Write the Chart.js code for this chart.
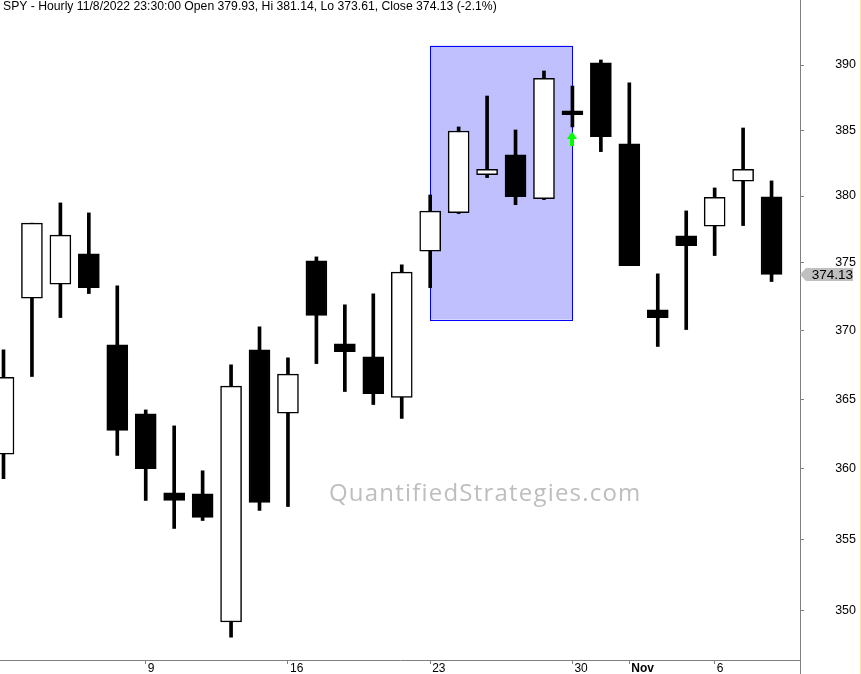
<!DOCTYPE html>
<html lang="en">
<head>
<meta charset="UTF-8">
<title>SPY candles</title>
<script src="https://cdn.jsdelivr.net/npm/chart.js@4.4.0/dist/chart.umd.min.js"></script>
<style>
    html, body { margin: 0; padding: 0; background: #fff; }
    canvas { display: block; }
</style>
</head>
<body>
<canvas id="myChart" width="861" height="674"></canvas>
<script>
    // daily bars, Oct 3 .. Nov 9 2022 (index = trading day)
    const opens  = [361.04, 372.38, 373.42, 375.66, 368.95, 363.94, 358.28, 358.21, 349.22, 368.59,
                    363.99, 375.14, 369.02, 368.07, 365.12, 375.87, 378.75, 381.62, 383.11, 379.80,
                    386.47, 390.16, 383.95, 371.52, 377.01, 377.73, 381.12, 379.93];
    const highs  = [368.59, 377.96, 379.48, 378.73, 373.29, 364.22, 363.07, 359.85, 367.49, 370.27,
                    368.00, 375.44, 371.89, 372.70, 374.85, 380.08, 385.24, 387.61, 385.01, 389.54,
                    388.38, 390.39, 388.62, 374.18, 378.88, 380.61, 385.16, 381.14];
    const lows   = [359.28, 366.64, 370.95, 372.72, 360.94, 357.74, 355.76, 356.32, 348.18, 357.03,
                    357.31, 367.58, 365.55, 364.61, 363.60, 373.16, 378.68, 381.39, 379.35, 379.73,
                    385.24, 383.36, 374.79, 368.83, 370.07, 375.54, 377.78, 373.61];
    const closes = [366.59, 377.96, 377.06, 373.16, 362.74, 360.01, 357.74, 356.53, 365.94, 357.60,
                    366.81, 371.10, 368.46, 365.40, 374.31, 378.86, 384.93, 382.02, 379.96, 388.98,
                    386.18, 384.50, 374.79, 370.95, 376.28, 379.91, 382.02, 374.13];

    const xTickIdx  = [5, 10, 15, 20, 22, 25];
    const xTickText = ['9', '16', '23', '30', 'Nov', '6'];
    const yTicks    = [350, 355, 360, 365, 370, 375, 380, 385, 390];

    // highlighted zone and buy signal
    const zoneFrom = 15, zoneTo = 20, zoneHigh = 391.5, zoneLow = 370.8;
    const signalIdx = 20;

    const titleText = 'SPY - Hourly 11/8/2022 23:30:00 Open 379.93, Hi 381.14, Lo 373.61, Close 374.13 (-2.1%)';

    let wicks = [];
    let bodies = [];
    let bodyColors = [];
    for (let i = 0; i < opens.length; i++) {
        wicks.push({x: i, y: [lows[i], highs[i]]});
        bodies.push({x: i, y: [Math.min(opens[i], closes[i]), Math.max(opens[i], closes[i])]});
        bodyColors.push(closes[i] > opens[i] ? '#ffffff' : '#000000');
    }

    const overlay = {
        id: 'overlay',
        beforeDatasetsDraw(chart) {
            const {ctx, scales: {x, y}} = chart;
            const x0 = x.getPixelForValue(zoneFrom), x1 = x.getPixelForValue(zoneTo);
            const y0 = y.getPixelForValue(zoneHigh), y1 = y.getPixelForValue(zoneLow);
            ctx.save();
            ctx.fillStyle = '#c0c0ff';
            ctx.fillRect(x0, y0, x1 - x0, y1 - y0);
            ctx.strokeStyle = '#0000ff';
            ctx.lineWidth = 1;
            ctx.strokeRect(Math.round(x0) + 0.5, Math.round(y0) + 0.5, Math.round(x1 - x0), Math.round(y1 - y0));

            // watermark
            ctx.font = '24px "Open Sans"';
            ctx.letterSpacing = '1.2px';
            ctx.fillStyle = '#bebebe';
            ctx.textAlign = 'left';
            ctx.textBaseline = 'alphabetic';
            ctx.fillText('QuantifiedStrategies.com', 329, 501);
            ctx.letterSpacing = '0px';
            ctx.restore();
        },
        afterDraw(chart) {
            const {ctx, scales: {x, y}, chartArea} = chart;
            ctx.save();

            // title line
            ctx.font = '12.2px "Liberation Sans", Arial, sans-serif';
            ctx.fillStyle = '#000';
            ctx.textAlign = 'left';
            ctx.textBaseline = 'middle';
            ctx.fillText(titleText, 3, 7);

            // green up arrow under the signal bar
            const ax = Math.round(x.getPixelForValue(signalIdx));
            const ay = y.getPixelForValue(lows[signalIdx]) + 4.5;
            ctx.fillStyle = '#00ff00';
            ctx.beginPath();
            ctx.moveTo(ax, ay);
            ctx.lineTo(ax + 5, ay + 7.5);
            ctx.lineTo(ax + 2, ay + 7.5);
            ctx.lineTo(ax + 2, ay + 14.5);
            ctx.lineTo(ax - 2, ay + 14.5);
            ctx.lineTo(ax - 2, ay + 7.5);
            ctx.lineTo(ax - 5, ay + 7.5);
            ctx.closePath();
            ctx.fill();

            // last price tag
            const last = closes[closes.length - 1];
            const py = y.getPixelForValue(last);
            const left = chartArea.right;
            ctx.fillStyle = '#c0c0c0';
            ctx.beginPath();
            ctx.moveTo(left, py);
            ctx.lineTo(left + 6, py - 6.5);
            ctx.lineTo(left + 53, py - 6.5);
            ctx.lineTo(left + 53, py + 6.5);
            ctx.lineTo(left + 6, py + 6.5);
            ctx.closePath();
            ctx.fill();
            ctx.font = '13.5px "Liberation Sans", Arial, sans-serif';
            ctx.fillStyle = '#000';
            ctx.textAlign = 'right';
            ctx.fillText(last.toFixed(2), left + 53, py + 0.5);

            // axis line runs down to the bottom edge
            ctx.strokeStyle = '#808080';
            ctx.lineWidth = 1;
            ctx.beginPath();
            ctx.moveTo(Math.round(chartArea.right) + 0.5, chartArea.bottom);
            ctx.lineTo(Math.round(chartArea.right) + 0.5, chart.height);
            ctx.stroke();

            ctx.strokeStyle = '#ffe4a8';
            ctx.beginPath();
            ctx.moveTo(chart.width - 0.5, 0);
            ctx.lineTo(chart.width - 0.5, chart.height);
            ctx.stroke();
            ctx.restore();
        }
    };

    Chart.defaults.font.family = '"Liberation Sans", Arial, sans-serif';
    Chart.defaults.font.size = 12;
    Chart.defaults.color = '#000';

    const ctx = document.getElementById('myChart').getContext('2d');
    new Chart(ctx, {
        type: 'bar',
        data: {
            datasets: [
                {
                    label: 'Wick',
                    data: wicks,
                    backgroundColor: '#000',
                    barThickness: 3,
                    grouped: false,
                    order: 2
                },
                {
                    label: 'Body',
                    data: bodies,
                    backgroundColor: bodyColors,
                    borderColor: '#000',
                    borderWidth: 1.5,
                    borderSkipped: false,
                    barThickness: 21,
                    grouped: false,
                    order: 1
                }
            ]
        },
        options: {
            responsive: false,
            animation: false,
            layout: {padding: {left: 0, top: 0, bottom: 0, right: 5}},
            plugins: {
                legend: {display: false},
                tooltip: {enabled: false},
                title: {display: false}
            },
            scales: {
                x: {
                    type: 'linear',
                    min: -0.123,
                    max: 28.0,
                    offset: false,
                    afterBuildTicks: (scale) => {
                        scale.ticks = xTickIdx.map(v => ({value: v}));
                    },
                    afterFit: (scale) => {
                        scale.height = 14;
                        scale.paddingLeft = 0;
                        scale.paddingRight = 0;
                    },
                    ticks: {
                        autoSkip: false,
                        maxRotation: 0,
                        align: 'start',
                        labelOffset: 2,
                        padding: -3,
                        callback: (v) => xTickText[xTickIdx.indexOf(v)],
                        font: (c) => ({
                            family: '"Liberation Sans", Arial, sans-serif',
                            size: 12,
                            weight: (c.tick && c.tick.label === 'Nov') ? 'bold' : 'normal'
                        })
                    },
                    grid: {
                        offset: false,
                        drawOnChartArea: false,
                        tickLength: 4,
                        color: '#808080'
                    },
                    border: {color: '#808080', width: 1}
                },
                y: {
                    type: 'logarithmic',
                    position: 'right',
                    min: 346.6,
                    max: 395.06,
                    afterBuildTicks: (scale) => {
                        scale.ticks = yTicks.map(v => ({value: v}));
                    },
                    afterFit: (scale) => {
                        scale.width = 56;
                        scale.paddingTop = 0;
                        scale.paddingBottom = 0;
                    },
                    ticks: {
                        crossAlign: 'far',
                        font: {size: 12.5},
                        callback: (v) => String(v)
                    },
                    grid: {
                        drawOnChartArea: false,
                        tickLength: 4,
                        color: '#808080'
                    },
                    border: {color: '#808080', width: 1}
                }
            }
        },
        plugins: [overlay]
    });
</script>
</body>
</html>
